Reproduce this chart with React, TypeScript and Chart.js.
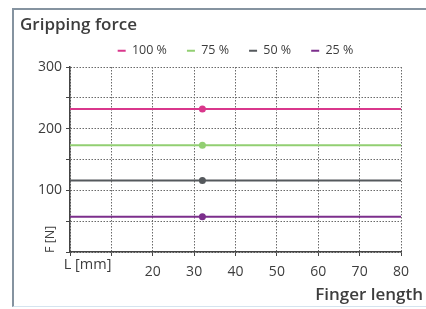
import React, { useEffect, useRef } from "react";
import { Chart, registerables } from "chart.js";

Chart.register(...registerables);

const chartTitle = "Gripping force";
const seriesLabels = ["100 %", "75 %", "50 %", "25 %"];
const forceValues = [232, 173, 116, 57];
const lineLengths = [0, 32, 80];
const markerLength = 32;
const xTickValues = [20, 30, 40, 50, 60, 70, 80];
const yTickValues = [100, 200, 300];
const xUnitLabel = "L [mm]";
const yUnitLabel = "F [N]";
const xAxisTitle = "Finger length";

const seriesColors = ["#d9378c", "#92cf72", "#55595d", "#7c2f8c"];
const FONT = "'Open Sans', 'DejaVu Sans', sans-serif";
const TEXT = "#3d3d3d";

const overlayText = {
  id: "overlayText",
  afterLayout(chart: any) {
    const lg = chart.legend;
    if (lg) {
      const dx = 25;
      const dy = -11;
      lg.left += dx;
      lg.right += dx;
      lg.top += dy;
      lg.bottom += dy;
    }
  },
  afterDraw(chart: any) {
    const ctx = chart.ctx;
    const xs = chart.scales.x;
    const area = chart.chartArea;
    ctx.save();
    ctx.fillStyle = TEXT;
    ctx.font = `14.5px ${FONT}`;
    ctx.textAlign = "right";
    ctx.textBaseline = "middle";
    ctx.fillText(xUnitLabel, xs.getPixelForValue(10), area.bottom + 13);
    ctx.save();
    ctx.translate(50, area.bottom + 1);
    ctx.rotate(-Math.PI / 2);
    ctx.textAlign = "left";
    ctx.font = `12.5px ${FONT}`;
    ctx.fillText(yUnitLabel, 0, 0);
    ctx.restore();
    ctx.font = `600 17px ${FONT}`;
    ctx.textAlign = "right";
    ctx.fillText(xAxisTitle, 423, 295);
    ctx.restore();
  },
};

export default function App() {
  const ref = useRef<HTMLCanvasElement>(null);
  useEffect(() => {
    if (!ref.current) return;
    const chart = new Chart(ref.current, {
      type: "line",
      data: {
        datasets: seriesLabels.map((label, i) => ({
          label,
          data: lineLengths.map((x) => ({ x, y: forceValues[i] })),
          borderColor: seriesColors[i],
          backgroundColor: seriesColors[i],
          borderWidth: 2,
          pointRadius: (c: any) => (c.raw && c.raw.x === markerLength ? 2.5 : 0),
          pointBorderWidth: 2,
          pointHoverRadius: 0,
        })),
      },
      options: {
        responsive: false,
        animation: false,
        devicePixelRatio: 1,
        layout: { padding: { top: 0, left: 20, right: 25, bottom: 0 } },
        plugins: {
          title: {
            display: true,
            text: chartTitle,
            align: "start",
            color: TEXT,
            font: { family: FONT, size: 17, weight: "600", lineHeight: 1.2 },
            padding: { top: 15, bottom: 0 },
          },
          legend: {
            display: true,
            align: "center",
            maxHeight: 31.6,
            labels: {
              color: TEXT,
              font: { family: FONT, size: 12.5 },
              usePointStyle: true,
              pointStyle: "line",
              pointStyleWidth: 8,
              boxHeight: 12.5,
              padding: 20,
            },
          },
          tooltip: { enabled: false },
        },
        scales: {
          x: {
            type: "linear",
            min: 0,
            max: 80,
            afterFit: (s: any) => {
              s.height = 57;
            },
            ticks: {
              stepSize: 10,
              autoSkip: false,
              maxRotation: 0,
              padding: 8,
              color: TEXT,
              font: { family: FONT, size: 14 },
              callback: (v: any) => (xTickValues.includes(Number(v)) ? String(v) : ""),
            },
            grid: {
              color: "#6a6a6a",
              lineWidth: 1,
              tickLength: 4,
              tickColor: "#444",
              tickBorderDash: [],
            },
            border: { display: true, color: "#444", width: 1.5, dash: [1.5, 1.5] },
          },
          y: {
            min: 0,
            max: 300,
            afterFit: (s: any) => {
              s.width = 50;
            },
            ticks: {
              stepSize: 50,
              autoSkip: false,
              padding: 4,
              color: TEXT,
              font: { family: FONT, size: 14 },
              callback: (v: any) => (yTickValues.includes(Number(v)) ? String(v) : ""),
            },
            grid: {
              color: "#6a6a6a",
              lineWidth: 1,
              tickLength: 4,
              tickColor: "#444",
              tickBorderDash: [],
            },
            border: { display: true, color: "#444", width: 1.5, dash: [1.5, 1.5] },
          },
        },
      },
      plugins: [overlayText],
    } as any);
    return () => chart.destroy();
  }, []);

  return (
    <div style={{ position: "absolute", left: 0, top: 0, width: 426, height: 309, background: "#fff", overflow: "hidden" }}>
      <div
        style={{
          position: "absolute",
          left: 12,
          top: 8,
          width: 430,
          height: 296,
          borderLeft: "2px solid #8593a0",
          borderTop: "2px solid #8593a0",
          borderBottom: "1px solid #d5e4ef",
        }}
      />
      <canvas ref={ref} width={426} height={309} style={{ position: "absolute", left: 0, top: 0 }} />
    </div>
  );
}
